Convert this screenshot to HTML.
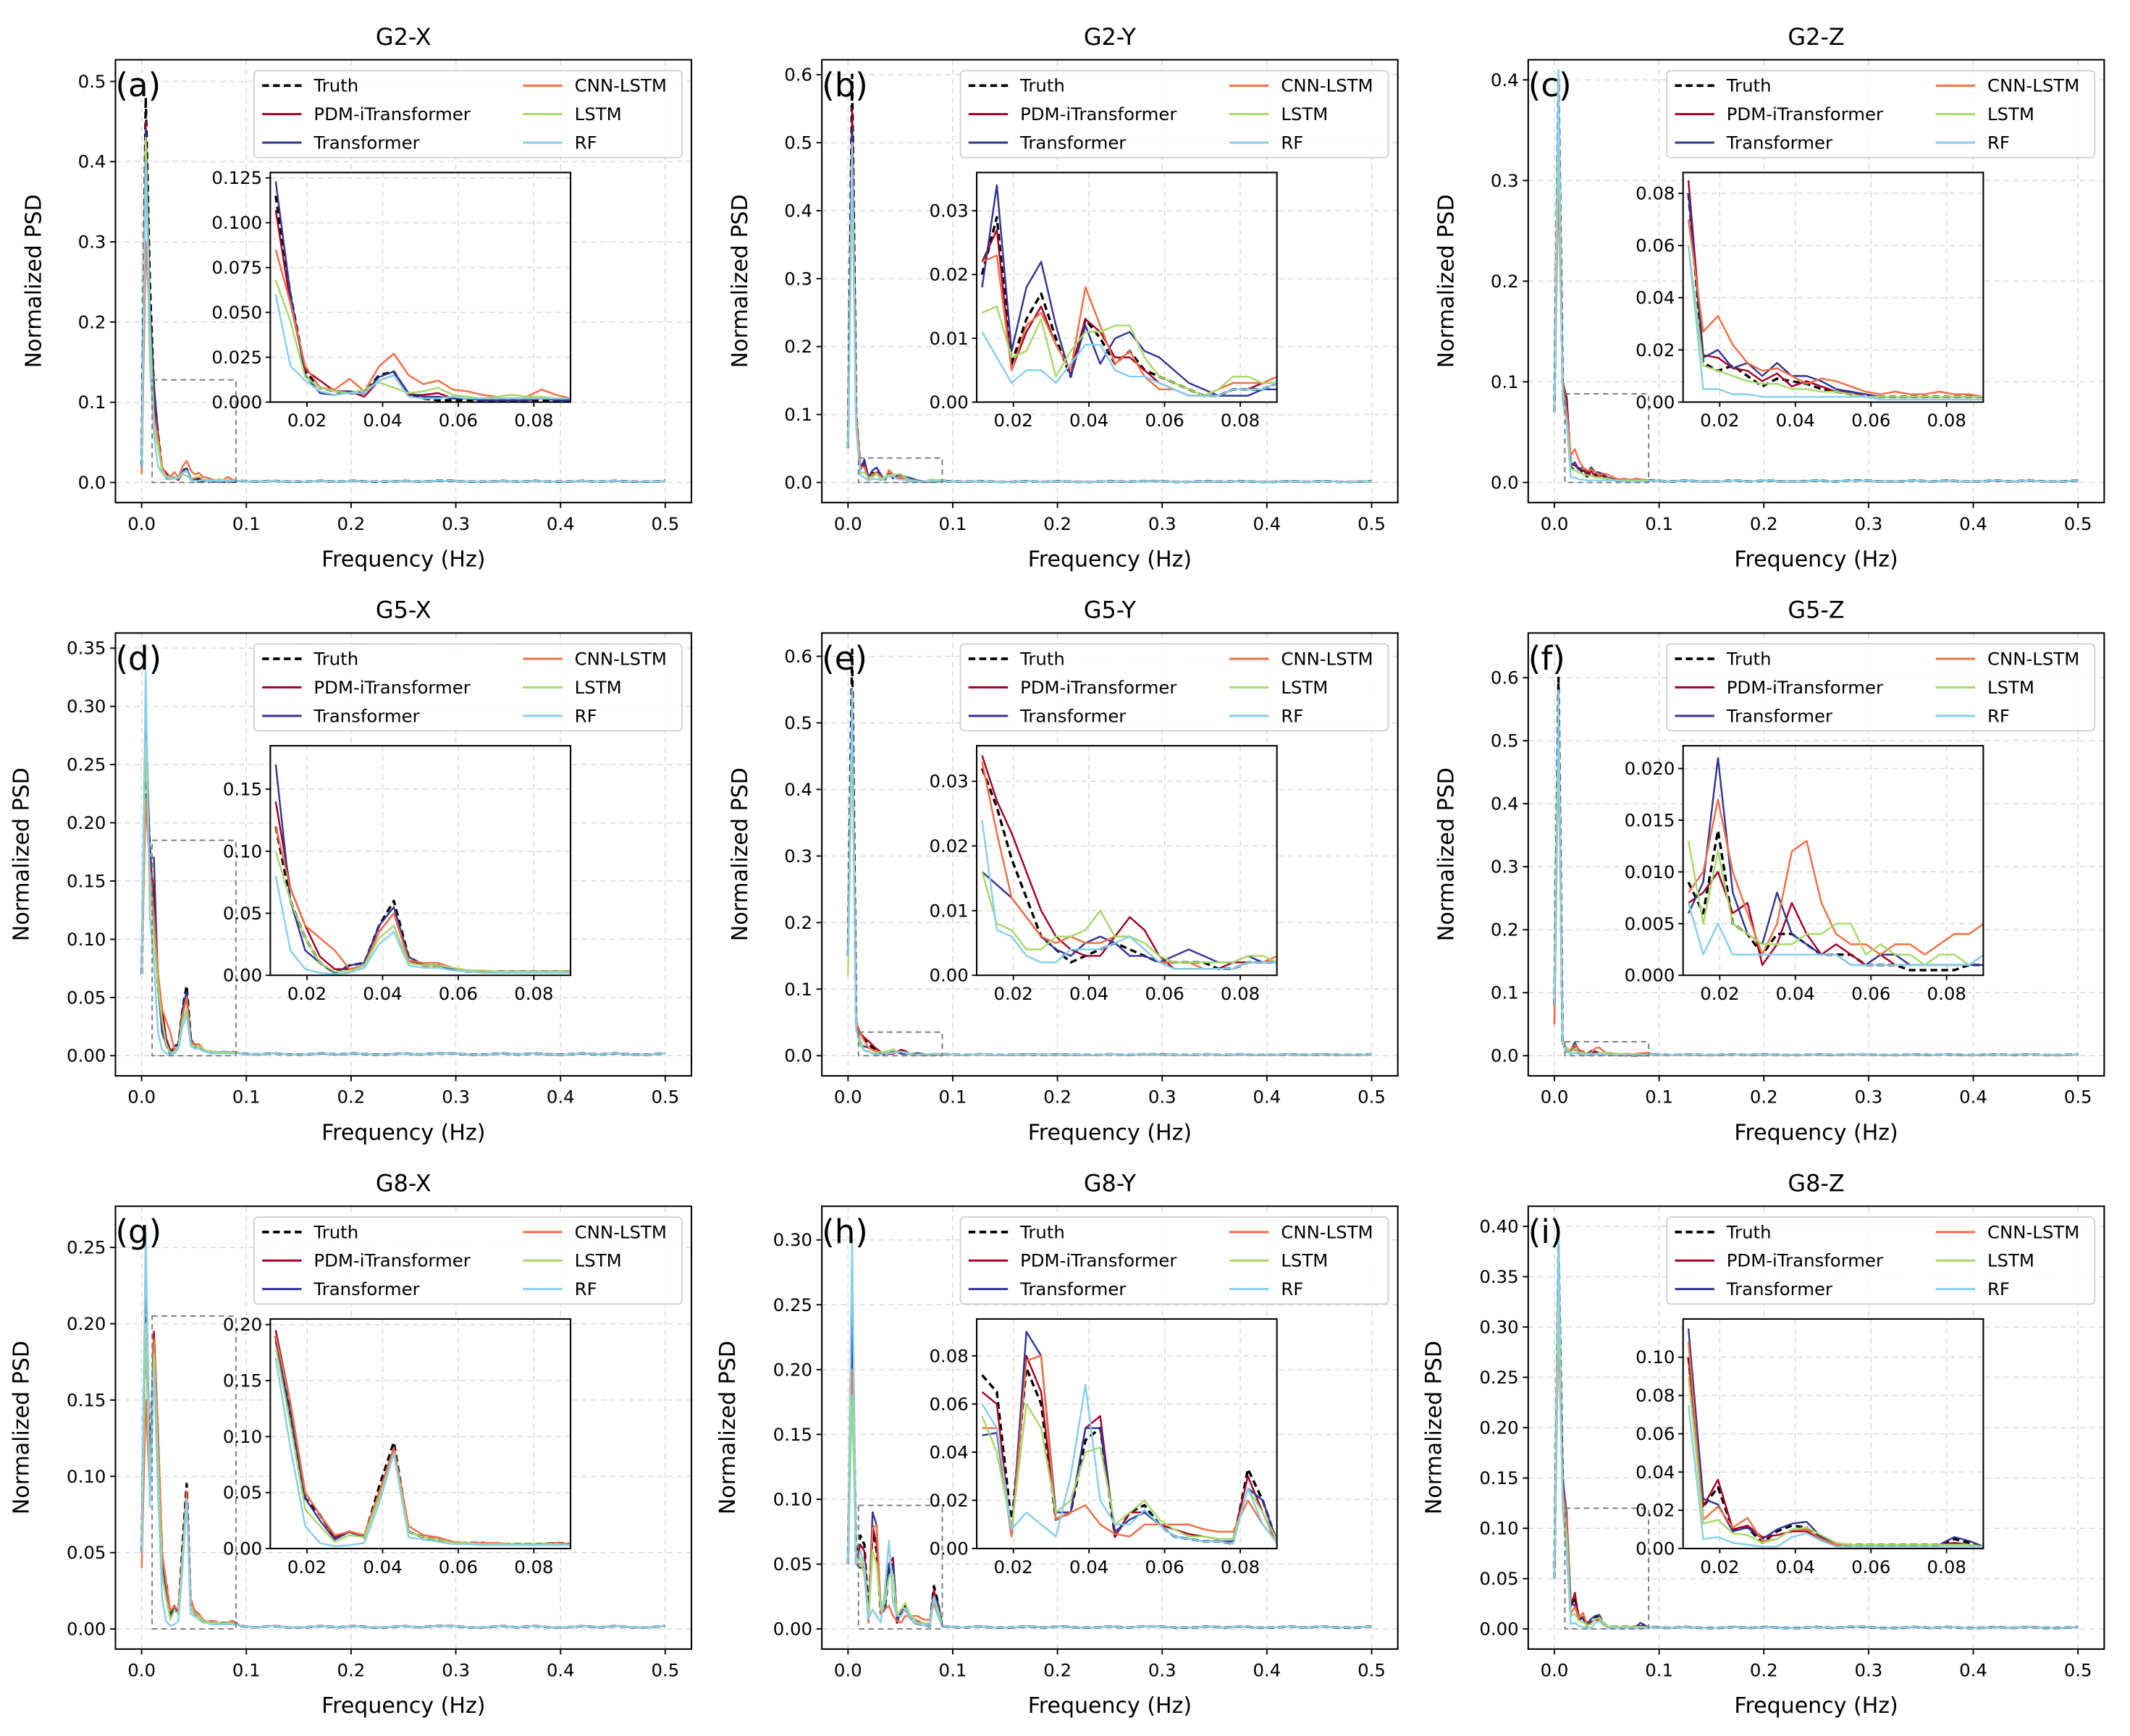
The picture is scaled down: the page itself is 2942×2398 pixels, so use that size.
<!DOCTYPE html>
<html><head><meta charset="utf-8"><style>
html,body{margin:0;padding:0;background:#fff;}
svg{display:block;font-family:"DejaVu Sans","Liberation Sans",sans-serif;}
</style></head><body>
<svg id="fig" width="2942" height="2398" viewBox="0 0 1568 1278" preserveAspectRatio="none" xmlns="http://www.w3.org/2000/svg"></svg>
<script>
// ---- data: normalized PSD at frequency k/256, k = 0..23 ----
const seriesNames = ["Truth","PDM-iTransformer","Transformer","CNN-LSTM","LSTM","RF"];
const seriesColors = ["#000000","#a50026","#313695","#f46d43","#a6d96a","#87ceeb"];
const G2X_truth=[.02,.48,.25,.115,.06,.017,.008,.006,.005,.005,.015,.017,.004,.002,.001,.001,.001,.001,.001,.001,.001,.001,.001,.001];
const G2X_pdm=[.02,.45,.22,.107,.055,.018,.012,.006,.006,.003,.012,.015,.004,.004,.005,.002,.002,.001,.002,.002,.002,.002,.002,.002];
const G2X_trans=[.02,.44,.22,.123,.06,.015,.005,.004,.006,.005,.014,.017,.005,.003,.003,.002,.002,.001,.001,.001,.001,.002,.001,.001];
const G2X_cnn=[.01,.30,.20,.085,.055,.02,.008,.007,.013,.006,.02,.027,.015,.01,.012,.007,.006,.004,.003,.004,.003,.007,.004,.002];
const G2X_lstm=[.02,.43,.2,.068,.045,.014,.008,.006,.005,.007,.011,.008,.005,.006,.008,.004,.003,.002,.003,.004,.003,.003,.002,.002];
const G2X_rf=[.02,.40,.15,.060,.020,.012,.006,.004,.005,.005,.012,.015,.003,.002,.002,.003,.002,.002,.002,.002,.002,.002,.002,.002];

const G2Y_truth=[.05,.60,.10,.020,.029,.006,.013,.017,.010,.004,.013,.010,.006,.008,.005,.004,.003,.002,.001,.001,.002,.002,.002,.003];
const G2Y_pdm=[.05,.55,.10,.022,.027,.005,.011,.015,.009,.005,.013,.011,.007,.007,.005,.003,.002,.001,.001,.001,.002,.002,.003,.003];
const G2Y_trans=[.05,.52,.10,.018,.034,.008,.018,.022,.012,.004,.012,.006,.010,.011,.008,.007,.005,.003,.002,.001,.001,.001,.002,.002];
const G2Y_cnn=[.05,.50,.10,.022,.023,.005,.012,.014,.009,.005,.018,.012,.006,.008,.004,.002,.002,.001,.001,.002,.003,.003,.003,.004];
const G2Y_lstm=[.05,.45,.08,.014,.015,.007,.008,.013,.004,.008,.011,.011,.012,.012,.007,.004,.003,.002,.001,.002,.004,.004,.003,.003];
const G2Y_rf=[.05,.50,.08,.011,.007,.003,.005,.005,.003,.006,.009,.009,.005,.004,.004,.003,.002,.001,.001,.001,.002,.002,.002,.003];

const G2Z_truth=[.07,.40,.10,.080,.015,.012,.014,.010,.006,.009,.008,.007,.005,.004,.003,.002,.002,.002,.002,.002,.002,.002,.002,.002];
const G2Z_pdm=[.07,.36,.10,.085,.018,.017,.013,.012,.008,.011,.006,.008,.006,.004,.004,.002,.002,.002,.002,.002,.002,.002,.002,.002];
const G2Z_trans=[.07,.38,.10,.080,.017,.020,.013,.015,.010,.015,.010,.010,.008,.005,.004,.003,.002,.002,.002,.002,.002,.002,.002,.002];
const G2Z_cnn=[.07,.30,.10,.070,.027,.033,.022,.015,.012,.013,.010,.007,.009,.008,.006,.004,.003,.004,.003,.003,.004,.003,.003,.002];
const G2Z_lstm=[.07,.35,.09,.060,.014,.012,.010,.008,.007,.007,.005,.005,.004,.004,.003,.002,.002,.002,.002,.002,.002,.002,.002,.002];
const G2Z_rf=[.07,.41,.08,.060,.005,.005,.003,.003,.002,.002,.002,.002,.002,.002,.002,.002,.001,.001,.001,.001,.001,.001,.001,.001];

const G5X_truth=[.07,.26,.175,.12,.06,.03,.01,.002,.008,.01,.04,.06,.015,.008,.008,.005,.003,.003,.003,.003,.003,.003,.003,.003];
const G5X_pdm=[.07,.30,.17,.14,.07,.04,.015,.005,.005,.008,.035,.05,.012,.008,.008,.005,.003,.003,.003,.003,.003,.003,.003,.003];
const G5X_trans=[.07,.29,.17,.17,.06,.02,.01,.002,.008,.01,.04,.055,.015,.008,.008,.005,.003,.003,.003,.003,.003,.003,.003,.003];
const G5X_cnn=[.07,.22,.16,.12,.07,.04,.03,.02,.005,.008,.035,.05,.012,.01,.01,.006,.004,.003,.003,.003,.003,.003,.003,.003];
const G5X_lstm=[.07,.27,.15,.10,.06,.03,.01,.003,.003,.008,.03,.04,.01,.008,.008,.006,.004,.004,.003,.003,.003,.003,.003,.003];
const G5X_rf=[.07,.33,.12,.08,.02,.005,.002,.001,.002,.006,.025,.035,.008,.006,.006,.004,.003,.002,.002,.002,.002,.002,.002,.002];

const G5Y_truth=[.15,.61,.05,.032,.026,.018,.012,.006,.004,.002,.003,.004,.005,.004,.003,.002,.002,.002,.002,.001,.001,.002,.002,.002];
const G5Y_pdm=[.15,.55,.05,.034,.027,.022,.016,.010,.006,.004,.003,.003,.006,.009,.007,.003,.001,.001,.001,.001,.002,.002,.002,.002];
const G5Y_trans=[.15,.50,.04,.016,.014,.012,.009,.006,.004,.003,.005,.006,.005,.003,.003,.002,.003,.004,.003,.002,.002,.003,.002,.002];
const G5Y_cnn=[.15,.50,.05,.033,.022,.012,.009,.006,.005,.006,.005,.005,.006,.006,.004,.002,.002,.002,.001,.001,.001,.002,.002,.003];
const G5Y_lstm=[.12,.50,.04,.016,.008,.007,.004,.004,.006,.006,.007,.010,.006,.006,.005,.003,.002,.002,.002,.002,.002,.003,.003,.002];
const G5Y_rf=[.15,.55,.04,.024,.007,.006,.003,.002,.002,.004,.004,.004,.005,.006,.004,.002,.001,.001,.001,.001,.001,.002,.002,.002];

const G5Z_truth=[.08,.60,.02,.009,.006,.014,.005,.004,.002,.004,.004,.003,.002,.002,.002,.001,.001,.001,.0005,.0005,.0005,.0005,.001,.001];
const G5Z_pdm=[.05,.55,.02,.007,.008,.010,.006,.007,.001,.003,.007,.004,.002,.003,.002,.001,.002,.001,.001,.001,.001,.001,.001,.002];
const G5Z_trans=[.08,.52,.02,.006,.009,.021,.008,.004,.003,.008,.004,.003,.002,.002,.001,.001,.002,.002,.001,.001,.001,.001,.001,.001];
const G5Z_cnn=[.05,.50,.02,.008,.010,.017,.010,.006,.002,.005,.012,.013,.007,.004,.003,.003,.002,.003,.003,.002,.003,.004,.004,.005];
const G5Z_lstm=[.10,.50,.02,.013,.005,.012,.005,.004,.003,.003,.003,.004,.004,.005,.005,.002,.003,.002,.002,.001,.002,.002,.001,.002];
const G5Z_rf=[.08,.58,.02,.007,.002,.005,.002,.002,.002,.002,.002,.002,.002,.002,.001,.001,.001,.001,.001,.001,.001,.001,.001,.002];

const G8X_truth=[.05,.22,.10,.19,.12,.045,.03,.01,.015,.01,.055,.095,.015,.01,.008,.005,.005,.005,.004,.004,.004,.004,.005,.004];
const G8X_pdm=[.05,.20,.09,.195,.13,.05,.03,.01,.015,.012,.05,.09,.015,.01,.008,.005,.005,.005,.004,.004,.004,.004,.005,.004];
const G8X_trans=[.05,.25,.10,.185,.12,.045,.025,.008,.015,.01,.05,.09,.015,.01,.008,.005,.005,.004,.004,.004,.004,.004,.005,.004];
const G8X_cnn=[.04,.15,.09,.19,.13,.05,.03,.012,.015,.012,.05,.09,.02,.012,.01,.006,.005,.005,.005,.004,.004,.004,.005,.004];
const G8X_lstm=[.05,.20,.09,.18,.11,.035,.02,.006,.012,.01,.045,.085,.015,.01,.008,.005,.005,.004,.004,.004,.004,.004,.004,.003];
const G8X_rf=[.05,.26,.08,.17,.09,.02,.005,.002,.003,.005,.04,.085,.01,.008,.006,.004,.004,.003,.003,.003,.003,.003,.003,.003];

const G8Y_truth=[.05,.25,.05,.072,.065,.010,.075,.060,.012,.015,.045,.050,.005,.015,.018,.010,.005,.004,.003,.003,.002,.033,.020,.002];
const G8Y_pdm=[.05,.24,.05,.065,.060,.005,.080,.065,.012,.015,.050,.055,.005,.015,.015,.010,.008,.006,.005,.004,.004,.030,.015,.002];
const G8Y_trans=[.05,.25,.05,.047,.048,.005,.090,.080,.015,.015,.050,.050,.007,.012,.015,.010,.005,.004,.003,.003,.003,.025,.020,.002];
const G8Y_cnn=[.05,.20,.05,.050,.050,.005,.078,.080,.012,.015,.018,.010,.006,.005,.010,.010,.010,.010,.008,.007,.007,.020,.010,.003];
const G8Y_lstm=[.05,.18,.05,.055,.040,.008,.060,.050,.015,.020,.040,.042,.010,.015,.020,.012,.008,.005,.005,.004,.004,.025,.015,.003];
const G8Y_rf=[.05,.30,.05,.060,.050,.008,.015,.010,.005,.030,.068,.020,.010,.010,.016,.010,.005,.004,.003,.003,.002,.025,.010,.002];

const G8Z_truth=[.05,.38,.15,.100,.022,.032,.010,.011,.003,.009,.012,.011,.005,.002,.002,.002,.002,.002,.002,.002,.002,.005,.003,.001];
const G8Z_pdm=[.05,.35,.15,.100,.022,.036,.010,.012,.006,.007,.009,.009,.004,.002,.002,.002,.002,.002,.002,.002,.002,.003,.002,.001];
const G8Z_trans=[.05,.36,.15,.115,.026,.023,.009,.011,.005,.010,.013,.014,.006,.002,.002,.002,.002,.002,.002,.002,.002,.006,.004,.001];
const G8Z_cnn=[.05,.30,.14,.108,.015,.022,.011,.016,.004,.005,.010,.010,.005,.002,.002,.002,.002,.002,.002,.002,.002,.002,.002,.001];
const G8Z_lstm=[.05,.33,.13,.090,.013,.015,.008,.007,.003,.005,.010,.011,.007,.003,.002,.002,.002,.002,.002,.002,.002,.002,.002,.001];
const G8Z_rf=[.05,.40,.12,.075,.005,.006,.003,.002,.001,.001,.006,.008,.004,.001,.001,.001,.001,.001,.001,.001,.001,.001,.001,.001];

// high-frequency tail (k = 24, 28, ..., 128), near zero
const tailValues=[.002,.001,.002,.001,.001,.002,.001,.002,.001,.001,.002,.001,.002,.002,.001,.001,.002,.001,.002,.001,.001,.002,.001,.002,.001,.001,.002];

const panelTitles=["G2-X","G2-Y","G2-Z","G5-X","G5-Y","G5-Z","G8-X","G8-Y","G8-Z"];
const panelLetters=["(a)","(b)","(c)","(d)","(e)","(f)","(g)","(h)","(i)"];
const panelData=[
 [G2X_truth,G2X_pdm,G2X_trans,G2X_cnn,G2X_lstm,G2X_rf],
 [G2Y_truth,G2Y_pdm,G2Y_trans,G2Y_cnn,G2Y_lstm,G2Y_rf],
 [G2Z_truth,G2Z_pdm,G2Z_trans,G2Z_cnn,G2Z_lstm,G2Z_rf],
 [G5X_truth,G5X_pdm,G5X_trans,G5X_cnn,G5X_lstm,G5X_rf],
 [G5Y_truth,G5Y_pdm,G5Y_trans,G5Y_cnn,G5Y_lstm,G5Y_rf],
 [G5Z_truth,G5Z_pdm,G5Z_trans,G5Z_cnn,G5Z_lstm,G5Z_rf],
 [G8X_truth,G8X_pdm,G8X_trans,G8X_cnn,G8X_lstm,G8X_rf],
 [G8Y_truth,G8Y_pdm,G8Y_trans,G8Y_cnn,G8Y_lstm,G8Y_rf],
 [G8Z_truth,G8Z_pdm,G8Z_trans,G8Z_cnn,G8Z_lstm,G8Z_rf]
];
const mainYMax=[0.527,0.622,0.42,0.363,0.635,0.671,0.277,0.326,0.42];
const mainYTicks=[[0,.1,.2,.3,.4,.5],[0,.1,.2,.3,.4,.5,.6],[0,.1,.2,.3,.4],[0,.05,.1,.15,.2,.25,.3,.35],[0,.1,.2,.3,.4,.5,.6],[0,.1,.2,.3,.4,.5,.6],[0,.05,.1,.15,.2,.25],[0,.05,.1,.15,.2,.25,.3],[0,.05,.1,.15,.2,.25,.3,.35,.4]];
const mainYDec=[1,1,1,2,1,1,2,2,2];
const insetYMax=[0.128,0.036,0.088,0.185,0.0355,0.0222,0.205,0.0953,0.12];
const insetYTicks=[[0,.025,.05,.075,.1,.125],[0,.01,.02,.03],[0,.02,.04,.06,.08],[0,.05,.1,.15],[0,.01,.02,.03],[0,.005,.01,.015,.02],[0,.05,.1,.15,.2],[0,.02,.04,.06,.08],[0,.02,.04,.06,.08,.1]];
const insetYDec=[3,2,2,2,2,3,2,2,2];
const mainXTicks=[0,.1,.2,.3,.4,.5];
const insetXTicks=[.02,.04,.06,.08];

const NS="http://www.w3.org/2000/svg";
const svg=document.getElementById('fig');
function el(tag,attrs,parent,text){const e=document.createElementNS(NS,tag);for(const k in attrs)e.setAttribute(k,attrs[k]);if(text!==undefined)e.textContent=text;(parent||svg).appendChild(e);return e;}

const colLeft=[85,605,1125], rowTop=[44,466,888], AW=424, AH=326;
const XMIN=-0.025, XMAX=0.525, IXMIN=0.0103, IXMAX=0.0897;

panelData.forEach((series,p)=>{
  const L=colLeft[p%3], T=rowTop[Math.floor(p/3)];
  const g=el('g',{});
  
  
  const ymax=mainYMax[p];
  const yLo=-(ymax/1.05)*0.05;
  const sx=v=>L+(v-XMIN)/(XMAX-XMIN)*AW;
  const sy=v=>T+AH-(v-yLo)/(ymax-yLo)*AH;
  mainXTicks.forEach(t=>{el('line',{x1:sx(t),x2:sx(t),y1:T,y2:T+AH,stroke:'#d9d9d9','stroke-width':0.8,'stroke-dasharray':'4,3'},g);});
  mainYTicks[p].forEach(t=>{el('line',{x1:L,x2:L+AW,y1:sy(t),y2:sy(t),stroke:'#d9d9d9','stroke-width':0.8,'stroke-dasharray':'4,3'},g);});
  const cid='clip'+p;
  const cp=el('clipPath',{id:cid},g); el('rect',{x:L,y:T,width:AW,height:AH},cp);
  const lines=el('g',{'clip-path':'url(#'+cid+')'},g);
  series.forEach((arr,s)=>{
    const pts=[];
    arr.forEach((v,k)=>pts.push(sx(k/256).toFixed(2)+','+sy(v).toFixed(2)));
    tailValues.forEach((v,i)=>pts.push(sx((24+4*i)/256).toFixed(2)+','+sy(v).toFixed(2)));
    const pl=el('polyline',{points:pts.join(' '),fill:'none',stroke:seriesColors[s],'stroke-width':s===0?1.8:1.3,'stroke-dasharray':s===0?'5,3':'none','stroke-linejoin':'round'},lines);
    
    
  });
  const zr=el('rect',{x:sx(0.01),y:sy(insetYMax[p]),width:sx(0.09)-sx(0.01),height:sy(0)-sy(insetYMax[p]),fill:'none',stroke:'#777','stroke-width':1,'stroke-dasharray':'4,3'},g);
  
  
  el('rect',{x:L,y:T,width:AW,height:AH,fill:'none',stroke:'#000','stroke-width':1.1},g);
  mainXTicks.forEach(t=>{el('line',{x1:sx(t),x2:sx(t),y1:T+AH,y2:T+AH+4,stroke:'#000','stroke-width':1},g);
    const tx=el('text',{x:sx(t),y:T+AH+20,'font-size':13,'text-anchor':'middle'},g,t.toFixed(1));
    
    });
  mainYTicks[p].forEach(t=>{el('line',{x1:L-4,x2:L,y1:sy(t),y2:sy(t),stroke:'#000','stroke-width':1},g);
    const ty=el('text',{x:L-7,y:sy(t)+4.5,'font-size':13,'text-anchor':'end'},g,t.toFixed(mainYDec[p]));
    
    });
  const title=el('text',{x:L+AW/2,y:T-11,'font-size':17,'text-anchor':'middle'},g,panelTitles[p]);
  
  
  const xl=el('text',{x:L+AW/2,y:T+AH+47,'font-size':16,'text-anchor':'middle'},g,'Frequency (Hz)');
  
  
  const yoff=mainYDec[p]===2?64:55;
  const yl=el('text',{x:L-yoff,y:T+AH/2,'font-size':16,'text-anchor':'middle',transform:'rotate(-90 '+(L-yoff)+' '+(T+AH/2)+')'},g,'Normalized PSD');
  
  
  const lt=el('text',{x:L,y:T+27,'font-size':24},g,panelLetters[p]);
  
  
  const lg=el('g',{},g);
  
  
  el('rect',{x:L+102,y:T+8,width:315,height:64,rx:3,fill:'#fff','fill-opacity':0.85,stroke:'#d0d0d0','stroke-width':1},lg);
  seriesNames.forEach((n,s)=>{
    const cx=s<3?L+108:L+300, cy=T+19+(s%3)*21;
    const e=el('g',{},lg);
    
    
    el('line',{x1:cx,x2:cx+29,y1:cy,y2:cy,stroke:seriesColors[s],'stroke-width':s===0?2:1.6,'stroke-dasharray':s===0?'5,3':'none'},e);
    el('text',{x:cx+38,y:cy+4.5,'font-size':13},e,n);
  });
  const IL=L+114, IT=T+83, IW=221, IH=169;
  const ix=v=>IL+(v-IXMIN)/(IXMAX-IXMIN)*IW;
  const iy=v=>IT+IH-v/insetYMax[p]*IH;
  const ig=el('g',{},g);
  
  
  el('rect',{x:IL,y:IT,width:IW,height:IH,fill:'#fff'},ig);
  insetXTicks.forEach(t=>el('line',{x1:ix(t),x2:ix(t),y1:IT,y2:IT+IH,stroke:'#d9d9d9','stroke-width':0.8,'stroke-dasharray':'4,3'},ig));
  insetYTicks[p].forEach(t=>el('line',{x1:IL,x2:IL+IW,y1:iy(t),y2:iy(t),stroke:'#d9d9d9','stroke-width':0.8,'stroke-dasharray':'4,3'},ig));
  const icid='iclip'+p;
  const icp=el('clipPath',{id:icid},ig); el('rect',{x:IL,y:IT,width:IW,height:IH},icp);
  const il=el('g',{'clip-path':'url(#'+icid+')'},ig);
  series.forEach((arr,s)=>{
    const pts=[];
    arr.forEach((v,k)=>{if(k>=3)pts.push(ix(k/256).toFixed(2)+','+iy(v).toFixed(2));});
    pts.push(ix(24/256).toFixed(2)+','+iy(tailValues[0]).toFixed(2));
    const pl=el('polyline',{points:pts.join(' '),fill:'none',stroke:seriesColors[s],'stroke-width':s===0?1.8:1.3,'stroke-dasharray':s===0?'5,3':'none','stroke-linejoin':'round'},il);
    
    
  });
  el('rect',{x:IL,y:IT,width:IW,height:IH,fill:'none',stroke:'#000','stroke-width':1.1},ig);
  insetXTicks.forEach(t=>{el('line',{x1:ix(t),x2:ix(t),y1:IT+IH,y2:IT+IH+3.5,stroke:'#000','stroke-width':1},ig);
    el('text',{x:ix(t),y:IT+IH+18,'font-size':13,'text-anchor':'middle'},ig,t.toFixed(2));});
  insetYTicks[p].forEach(t=>{el('line',{x1:IL-3.5,x2:IL,y1:iy(t),y2:iy(t),stroke:'#000','stroke-width':1},ig);
    el('text',{x:IL-6,y:iy(t)+4.5,'font-size':13,'text-anchor':'end'},ig,t.toFixed(insetYDec[p]));});
});
</script>
</body></html>
